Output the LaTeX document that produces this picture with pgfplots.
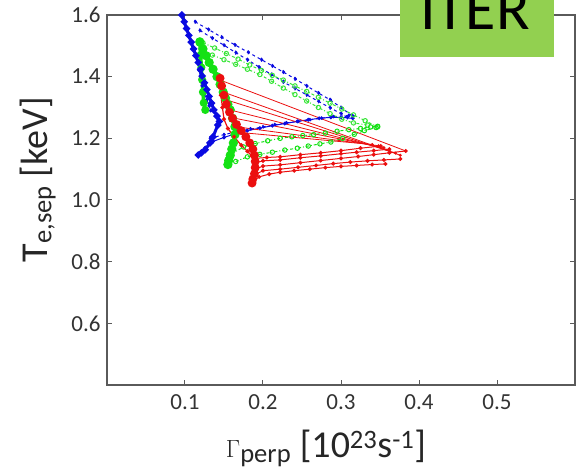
\documentclass[border=0pt]{standalone}
\usepackage{pgfplots}
\pgfplotsset{compat=1.18}
\usepackage{fontspec}
\setmainfont{Carlito}
\definecolor{bl}{RGB}{10,10,225}
\definecolor{gr}{RGB}{20,225,20}
\definecolor{rd}{RGB}{235,15,15}
\definecolor{iter}{RGB}{146,208,80}
\definecolor{axgray}{RGB}{90,90,90}
\begin{document}
\begin{tikzpicture}
\begin{axis}[
  scale only axis, width=468pt, height=370pt,
  xmin=0, xmax=0.6, ymin=0.4, ymax=1.6,
  xtick={0.1,0.2,0.3,0.4,0.5}, ytick={0.6,0.8,1.0,1.2,1.4,1.6},
  xticklabels={0.1,0.2,0.3,0.4,0.5},
  yticklabels={0.6,0.8,1.0,1.2,1.4,1.6},
  tick align=inside, major tick length=5pt,
  axis line style={axgray, line width=1.2pt},
  tick style={axgray, line width=1pt},
  ticklabel style={font=\fontsize{23}{26}\selectfont, text=black!80},
  xticklabel style={yshift=-6pt},
  yticklabel style={xshift=-3pt},
  xlabel={$\Gamma$\textsubscript{perp} [10\textsuperscript{23}s\textsuperscript{-1}]},
  ylabel={T\textsubscript{e,sep} [keV]},
  label style={font=\fontsize{38}{42}\selectfont, text=black!85},
  xlabel style={at={(axis description cs:0.468,-0.197)}, anchor=base},
  ylabel style={at={(axis description cs:-0.128,0.555)}, anchor=base},
]
% ---------- BLUE ----------
\addplot[bl, line width=0.8pt, mark=*, mark size=1.4pt] coordinates {
(0.118,1.420)(0.120,1.395)(0.122,1.370)(0.125,1.345)(0.128,1.325)(0.131,1.305)(0.133,1.290)};
\addplot[bl, line width=1pt, dashed, mark=*, mark size=1.5pt] coordinates {
(0.113,1.578)(0.130,1.553)(0.147,1.528)(0.164,1.503)(0.181,1.479)(0.198,1.455)(0.212,1.435)(0.226,1.415)(0.241,1.393)(0.256,1.370)(0.271,1.347)(0.286,1.325)(0.300,1.300)(0.315,1.272)};
\addplot[bl, line width=1pt, dashed, mark=*, mark size=1.5pt] coordinates {
(0.119,1.550)(0.135,1.525)(0.150,1.502)(0.165,1.478)(0.180,1.455)(0.195,1.431)(0.211,1.407)(0.226,1.383)(0.241,1.362)(0.256,1.341)(0.271,1.320)(0.286,1.299)(0.300,1.280)(0.308,1.268)};
\addplot[bl, line width=1pt, mark=*, mark size=1.4pt] coordinates {
(0.117,1.146)(0.126,1.170)(0.136,1.190)(0.150,1.203)(0.165,1.215)(0.180,1.225)(0.196,1.233)(0.212,1.241)(0.228,1.248)(0.244,1.255)(0.258,1.260)(0.272,1.265)(0.287,1.268)(0.300,1.268)(0.315,1.265)};
\addplot[bl, line width=1pt, dashed, mark=*, mark size=1.4pt] coordinates {
(0.132,1.200)(0.150,1.212)(0.167,1.222)(0.184,1.230)(0.200,1.237)(0.215,1.244)(0.230,1.250)(0.245,1.255)(0.260,1.260)(0.275,1.265)(0.290,1.270)(0.310,1.274)};
% ---------- GREEN ----------
\addplot[gr!85!white, line width=1pt, dash dot, mark=o, mark size=2.2pt, mark options={solid, line width=1pt}] coordinates {
(0.123,1.510)(0.138,1.493)(0.153,1.475)(0.168,1.457)(0.183,1.438)(0.198,1.420)(0.212,1.404)(0.226,1.389)(0.241,1.370)(0.256,1.352)(0.271,1.333)(0.286,1.314)(0.301,1.295)(0.316,1.276)(0.331,1.257)(0.347,1.237)};
\addplot[gr!85!white, line width=1pt, dash dot, mark=o, mark size=2.2pt, mark options={solid, line width=1pt}] coordinates {
(0.135,1.470)(0.150,1.455)(0.165,1.440)(0.180,1.424)(0.196,1.407)(0.211,1.385)(0.226,1.363)(0.241,1.342)(0.256,1.321)(0.271,1.300)(0.286,1.280)(0.301,1.262)(0.316,1.250)(0.334,1.243)};
\addplot[gr, line width=1pt, dash dot, mark=o, mark size=2.2pt, mark options={solid, line width=1pt}] coordinates {
(0.160,1.150)(0.175,1.172)(0.190,1.183)(0.206,1.192)(0.222,1.200)(0.237,1.205)(0.251,1.209)(0.265,1.212)(0.280,1.217)(0.295,1.223)(0.310,1.228)(0.325,1.232)(0.338,1.237)(0.347,1.239)};
\addplot[gr, line width=1pt, dash dot, mark=o, mark size=2.2pt, mark options={solid, line width=1pt}] coordinates {
(0.165,1.125)(0.180,1.140)(0.196,1.148)(0.212,1.155)(0.228,1.162)(0.244,1.168)(0.258,1.175)(0.273,1.182)(0.287,1.188)(0.302,1.200)(0.317,1.213)(0.330,1.225)(0.345,1.235)};
\addplot[gr, line width=4pt, mark=*, mark size=2.5pt] coordinates {
(0.119,1.513)(0.123,1.490)(0.127,1.468)(0.131,1.446)(0.136,1.424)(0.141,1.400)(0.145,1.375)(0.149,1.350)(0.152,1.330)(0.155,1.310)(0.158,1.292)(0.161,1.265)(0.164,1.238)(0.164,1.212)(0.162,1.185)(0.160,1.165)(0.158,1.145)(0.156,1.128)(0.155,1.115)};
\addplot[gr, line width=3.5pt, mark=*, mark size=2.2pt] coordinates {
(0.119,1.510)(0.120,1.470)(0.121,1.430)(0.122,1.390)(0.123,1.350)(0.124,1.315)(0.126,1.292)};
\addplot[bl, line width=3pt, mark=*, mark size=1.8pt] coordinates {
(0.096,1.600)(0.099,1.578)(0.102,1.556)(0.105,1.534)(0.108,1.512)(0.111,1.490)(0.114,1.468)(0.117,1.446)(0.120,1.424)(0.122,1.402)(0.125,1.380)(0.128,1.358)(0.131,1.336)(0.134,1.314)(0.137,1.292)(0.141,1.272)(0.144,1.255)(0.142,1.243)(0.136,1.205)(0.132,1.185)(0.126,1.163)(0.121,1.153)(0.117,1.146)};
% ---------- RED ----------
\addplot[rd, line width=0.8pt, mark=*, mark size=1.1pt] coordinates {(0.145,1.389)(0.383,1.159)};
\addplot[rd, line width=0.8pt, mark=*, mark size=1.1pt] coordinates {(0.149,1.350)(0.376,1.145)};
\addplot[rd, line width=0.8pt, mark=*, mark size=1.1pt] coordinates {(0.154,1.324)(0.370,1.152)};
\addplot[rd, line width=0.8pt, mark=*, mark size=1.1pt] coordinates {(0.158,1.292)(0.362,1.162)};
\addplot[rd, line width=0.8pt, mark=*, mark size=1.1pt] coordinates {(0.162,1.266)(0.355,1.170)};
\addplot[rd, line width=0.8pt, mark=*, mark size=1.1pt] coordinates {(0.167,1.237)(0.348,1.176)};
\addplot[rd, line width=0.8pt, mark=*, mark size=1.1pt] coordinates {(0.175,1.218)(0.340,1.180)};
\addplot[rd, line width=1pt, mark=*, mark size=1.5pt] coordinates {
(0.186,1.058)(0.195,1.075)(0.208,1.084)(0.222,1.090)(0.240,1.095)(0.260,1.100)(0.280,1.105)(0.300,1.109)(0.320,1.112)(0.340,1.115)(0.357,1.117)};
\addplot[rd, line width=1pt, mark=*, mark size=1.5pt] coordinates {
(0.188,1.080)(0.200,1.095)(0.222,1.100)(0.245,1.106)(0.268,1.112)(0.290,1.118)(0.312,1.123)(0.334,1.127)(0.355,1.130)(0.376,1.133)};
\addplot[rd, line width=1pt, mark=*, mark size=1.5pt] coordinates {
(0.190,1.100)(0.200,1.110)(0.222,1.114)(0.248,1.121)(0.274,1.128)(0.300,1.135)(0.322,1.141)(0.342,1.147)(0.362,1.153)(0.383,1.159)};
\addplot[rd, line width=1pt, mark=*, mark size=1.5pt] coordinates {
(0.190,1.120)(0.200,1.127)(0.222,1.130)(0.248,1.137)(0.274,1.143)(0.300,1.150)(0.320,1.155)(0.342,1.160)(0.362,1.165)};
\addplot[rd, line width=1pt, mark=*, mark size=1.5pt] coordinates {
(0.190,1.135)(0.205,1.138)(0.222,1.140)(0.248,1.147)(0.274,1.153)(0.300,1.160)(0.325,1.168)(0.351,1.175)};
\addplot[rd, line width=1.2pt, mark=*, mark size=1.4pt] coordinates {
(0.145,1.390)(0.146,1.340)(0.148,1.300)(0.150,1.262)(0.155,1.232)(0.163,1.205)(0.172,1.178)(0.180,1.158)(0.186,1.142)};
\addplot[rd, line width=4pt, mark=*, mark size=2.3pt] coordinates {
(0.145,1.395)(0.147,1.370)(0.150,1.340)(0.153,1.310)(0.157,1.285)(0.161,1.265)(0.166,1.245)(0.172,1.225)(0.178,1.205)(0.183,1.185)(0.187,1.165)(0.189,1.145)(0.190,1.125)(0.190,1.105)(0.189,1.085)(0.187,1.068)(0.186,1.055)};
\end{axis}
\fill[iter] (293pt,328pt) rectangle (447pt,400pt);
\node[anchor=base, font=\fontsize{62}{66}\selectfont, inner sep=0pt] at (368pt,355pt) {ITER};
\pgfresetboundingbox
\path[use as bounding box] (-107pt,-88pt) rectangle (469pt,385pt);
\end{tikzpicture}
\end{document}
